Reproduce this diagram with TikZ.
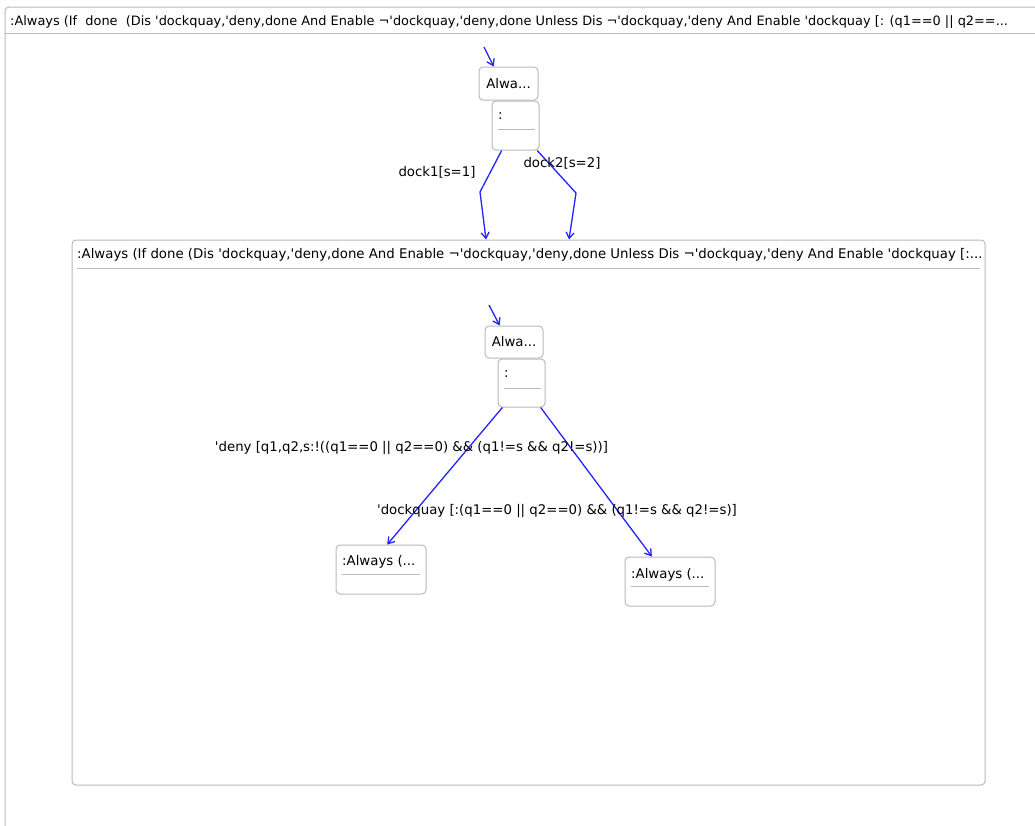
\documentclass[tikz,border=0pt]{standalone}
\usepackage{fontspec}
\setmainfont{DejaVu Sans}
\usetikzlibrary{arrows.meta}
\definecolor{boxgray}{RGB}{185,185,185}
\definecolor{edgeblue}{RGB}{35,35,255}
\newcommand{\sq}{\textquotesingle}
\newcommand{\fsz}{\fontsize{13.3}{15}\selectfont}
\begin{document}
\begin{tikzpicture}[x=1pt,y=-1pt,
  box/.style={draw=boxgray,line width=1pt,rounded corners=4pt,inner sep=0pt,font=\fsz},
  txt/.style={inner sep=0pt,anchor=base west,font=\fsz},
  lbl/.style={inner sep=0pt,font=\fsz},
  sep/.style={draw=boxgray,line width=1pt},
  edge/.style={draw=edgeblue,line width=1.3pt,-{Straight Barb[length=6pt,width=8pt]}}]
\useasboundingbox (0,0) rectangle (1035,825);
%outer frame, runs off the page right and below
\draw[sep,rounded corners=4pt] (1045,7) -- (5,7) -- (5,840);
\draw[sep] (5,33) -- (1045,33);
\node[txt,font=\fontsize{12.9}{15}\selectfont] (hdA) at (10,25) {:Always (If\ \ done\ \ (Dis \sq dockquay,\sq deny,done And Enable ¬\sq dockquay,\sq deny,done Unless Dis ¬\sq dockquay,\sq deny And Enable \sq dockquay [: (q1==0 || q2==...};
%top level states
\node[box,minimum width=59,minimum height=33] (s0) at (508.5,83.5) {Alwa...};
\node[box,minimum width=47,minimum height=49] (c0) at (515.5,125.5) {};
\node[txt] (c0t) at (498,119) {:};
\draw[sep] (498,129) -- (535,129);
\coordinate (i0) at (484,47);
\draw[edge] (i0) -- (s0.131); %initial
%inner frame
\node[box,minimum width=913,minimum height=545] (inner) at (528.5,512.5) {};
\draw[sep] (77,268) -- (980,268);
\node[txt] (hdB) at (77,258) {:Always (If done (Dis \sq dockquay,\sq deny,done And Enable ¬\sq dockquay,\sq deny,done Unless Dis ¬\sq dockquay,\sq deny And Enable \sq dockquay [:...};
%dock choices
\coordinate (b1) at (480,192);
\coordinate (b2) at (576,193);
\draw[edge] (c0.241) -- (b1) -- (486,0 |- inner.north);
\draw[edge] (c0.311) -- (b2) -- (569,0 |- inner.north);
\node[lbl] (d1) at (437,172) {dock1[s=1]};
\node[lbl] (d2) at (562,163) {dock2[s=2]};
%inner states
\node[box,minimum width=58,minimum height=32] (s1) at (514,342) {Alwa...};
\node[box,minimum width=47,minimum height=48] (c1) at (521.5,383) {};
\node[txt] (c1t) at (504,377) {:};
\draw[sep] (504,388) -- (541,388);
\coordinate (i1) at (489,305);
\draw[edge] (i1) -- (s1.131); %initial
\node[box,minimum width=90,minimum height=49] (t1) at (381,569.5) {};
\node[txt] (t1t) at (342,565) {:Always (...};
\draw[sep] (342,574) -- (420,574);
\node[box,minimum width=90,minimum height=49] (t2) at (670,581.5) {};
\node[txt] (t2t) at (631,578) {:Always (...};
\draw[sep] (631,586) -- (709,586);
%deny / dockquay
\draw[edge] (c1.232) -- (t1.76);
\draw[edge] (c1.308) -- (t2.126);
\node[lbl] (l1) at (411.5,448) {\sq deny [q1,q2,s:!((q1==0 || q2==0) \&\& (q1!=s \&\& q2!=s))]};
\node[lbl] (l2) at (557,511) {\sq dockquay [:(q1==0 || q2==0) \&\& (q1!=s \&\& q2!=s)]};
\end{tikzpicture}
\end{document}
